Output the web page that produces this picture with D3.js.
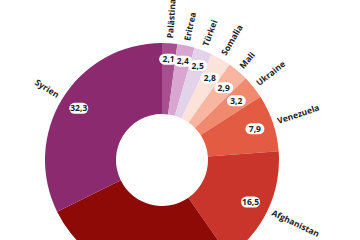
<!DOCTYPE html>
<html><head><meta charset="utf-8">
<script src="https://cdn.jsdelivr.net/npm/d3@7"></script>
<style>body{margin:0;background:#fff}svg{display:block}</style>
</head><body>
<svg id="c" width="360" height="240"></svg>
<script>
const countries = ["Palästina*","Eritrea","Türkei","Somalia","Mali","Ukraine","Venezuela","Afghanistan","Sonstige","Syrien"];
const values = [2.1,2.4,2.5,2.8,2.9,3.2,7.9,16.5,27.4,32.3];
const colors = ["#a8508f","#d9a6d2","#e3d3ea","#fce3da","#f7b5a2","#f08a6e","#e25b42","#c9352b","#8e0a07","#8b2a6f"];

const svg = d3.select("#c");
const W = 360, H = 240;
const cx = 162, cy = 160, rOuter = 117, rInner = 46;
const g = svg.append("g").attr("transform", `translate(${cx},${cy})`);
const data = countries.map((c,i)=>({name:c, value:values[i], color:colors[i], i}));
const pie = d3.pie().value(d=>d.value).sort(null);
const arcs = pie(data);
const arc = d3.arc().innerRadius(rInner).outerRadius(rOuter);

g.selectAll("path.slice").data(arcs).join("path")
  .attr("class","slice").attr("d",arc).attr("fill",d=>d.data.color);

const fmt = v => d3.format(".1f")(v).replace(".", ",");
const font = "'Open Sans', sans-serif";

// labels only for slices whose label area lies inside the visible frame
const mid = d => (d.startAngle + d.endAngle)/2;
const labR = d => d.index < 3 ? 101 : (d.index < 6 ? 95 : 98);
const visible = arcs.filter(d => cy - labR(d)*Math.cos(mid(d)) + 6 < H);

const vl = g.selectAll("g.vl").data(visible).join("g").attr("class","vl")
  .attr("transform", d => {
    const a = mid(d), r = labR(d);
    return `translate(${r*Math.sin(a)},${-r*Math.cos(a)})`;
  });
vl.append("rect").attr("x",-9.5).attr("y",-5.5).attr("width",19).attr("height",11)
  .attr("rx",5.5).attr("fill","#fff");
vl.append("text").attr("text-anchor","middle").attr("dy","0.35em")
  .attr("font-family",font).attr("font-weight",700).attr("font-size",8.5)
  .attr("fill","#1e1e1e").text(d=>fmt(d.data.value));

// name labels
const nameR = 122;
g.selectAll("text.nl").data(visible).join("text").attr("class","nl")
  .attr("font-family",font).attr("font-weight",700).attr("font-size",8.5).attr("fill","#222")
  .attr("dy","0.35em")
  .attr("transform", d => {
    const a = mid(d);
    const deg = a*180/Math.PI;
    const x = nameR*Math.sin(a), y = -nameR*Math.cos(a);
    const rot = deg < 180 ? deg - 90 : deg + 90;
    return `translate(${x},${y}) rotate(${rot})`;
  })
  .attr("text-anchor", d => mid(d) < Math.PI ? "start" : "end")
  .text(d=>d.data.name);
</script>
</body></html>
